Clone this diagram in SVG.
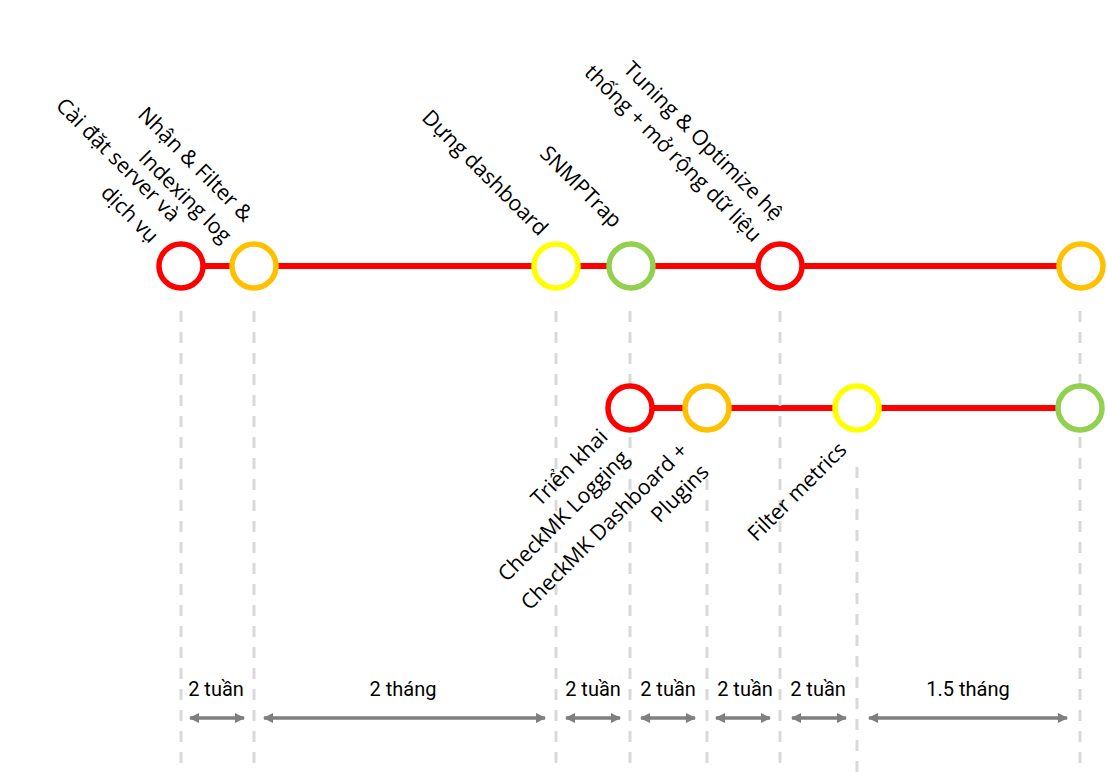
<svg xmlns="http://www.w3.org/2000/svg" width="1107" height="772" viewBox="0 0 1107 772">
<defs>
<style>
.lbl{font-family:"Open Sans","DejaVu Sans",sans-serif;font-size:21.3px;fill:#000;text-anchor:end}
.dur{font-family:Roboto,"Liberation Sans",sans-serif;font-size:20px;fill:#000;text-anchor:middle}
.track{stroke:#FF0000;stroke-width:6;fill:none}
.guide{stroke:#D9D9D9;stroke-width:3;stroke-dasharray:11 10;fill:none}
.arr{stroke:#7F7F7F;stroke-width:3.5;fill:none;marker-start:url(#ah);marker-end:url(#ah)}
.node{fill:#FFFFFF;stroke-width:5.5}
.red{stroke:#FF0000}.org{stroke:#FFC000}.yel{stroke:#FFFF00}.grn{stroke:#92D050}
</style>
<marker id="ah" viewBox="0 0 10 10" refX="9" refY="5" markerWidth="3" markerHeight="3" orient="auto-start-reverse" markerUnits="strokeWidth">
<path d="M0,0 L10,5 L0,10 z" fill="#7F7F7F"/>
</marker>
</defs>
<rect width="1107" height="772" fill="#FFFFFF"/>
<g id="connectors">
<line class="track" x1="181" y1="266" x2="1081" y2="266"/>
<line class="track" x1="630" y1="408" x2="1080" y2="408"/>
<line class="guide" x1="181" y1="311" x2="181" y2="772"/>
<line class="guide" x1="254" y1="311" x2="254" y2="772"/>
<line class="guide" x1="556" y1="311" x2="556" y2="772"/>
<line class="guide" x1="630" y1="311" x2="630" y2="772"/>
<line class="guide" x1="707" y1="479" x2="707" y2="772"/>
<line class="guide" x1="780" y1="311" x2="780" y2="772"/>
<line class="guide" x1="857" y1="467" x2="857" y2="772"/>
<line class="guide" x1="1080" y1="311" x2="1080" y2="772"/>
<line class="arr" x1="190" y1="718" x2="244" y2="718"/>
<line class="arr" x1="264" y1="718" x2="545" y2="718"/>
<line class="arr" x1="566" y1="718" x2="620" y2="718"/>
<line class="arr" x1="641" y1="718" x2="695" y2="718"/>
<line class="arr" x1="716" y1="718" x2="770" y2="718"/>
<line class="arr" x1="792" y1="718" x2="846" y2="718"/>
<line class="arr" x1="869" y1="718" x2="1067" y2="718"/>
</g>
<g id="n1"><circle class="node red" cx="181" cy="266" r="22"/>
<text class="lbl" transform="translate(171,223) rotate(45)"><tspan x="0" y="0">Cài đặt server và</tspan><tspan x="0" y="30">dịch vụ</tspan></text></g>
<g id="n2"><circle class="node org" cx="254" cy="266" r="22"/>
<text class="lbl" transform="translate(244,223) rotate(45)"><tspan x="0" y="0">Nhận &amp; Filter &amp;</tspan><tspan x="0" y="30">Indexing log</tspan></text></g>
<g id="n3"><circle class="node yel" cx="556" cy="266" r="22"/>
<text class="lbl" transform="translate(539,237) rotate(45)">Dựng dashboard</text></g>
<g id="n4"><circle class="node grn" cx="631" cy="266" r="22"/>
<text class="lbl" transform="translate(613,229) rotate(45)">SNMPTrap</text></g>
<g id="n5"><circle class="node red" cx="780" cy="266" r="22"/>
<text class="lbl" transform="translate(774,222) rotate(45)"><tspan x="0" y="0">Tuning &amp; Optimize hệ</tspan><tspan x="0" y="30">thống + mở rộng dữ liệu</tspan></text></g>
<g id="n6"><circle class="node org" cx="1081" cy="266" r="22"/></g>
<g id="n7"><circle class="node red" cx="630" cy="408" r="22"/>
<text class="lbl" transform="translate(609,438) rotate(-45)"><tspan x="0" y="0">Triển khai</tspan><tspan x="0" y="30">CheckMK Logging</tspan></text></g>
<g id="n8"><circle class="node org" cx="707" cy="408" r="22"/>
<text class="lbl" transform="translate(689,452) rotate(-45)"><tspan x="0" y="0">CheckMK Dashboard +</tspan><tspan x="0" y="30">Plugins</tspan></text></g>
<g id="n9"><circle class="node yel" cx="857" cy="408" r="22"/>
<text class="lbl" transform="translate(848,451) rotate(-45)">Filter metrics</text></g>
<g id="n10"><circle class="node grn" cx="1080" cy="408" r="22"/></g>
<g id="durations">
<text class="dur" x="216" y="696">2 tuần</text>
<text class="dur" x="403" y="696">2 tháng</text>
<text class="dur" x="593" y="696">2 tuần</text>
<text class="dur" x="668" y="696">2 tuần</text>
<text class="dur" x="745" y="696">2 tuần</text>
<text class="dur" x="818" y="696">2 tuần</text>
<text class="dur" x="968" y="696">1.5 tháng</text>
</g>
</svg>
